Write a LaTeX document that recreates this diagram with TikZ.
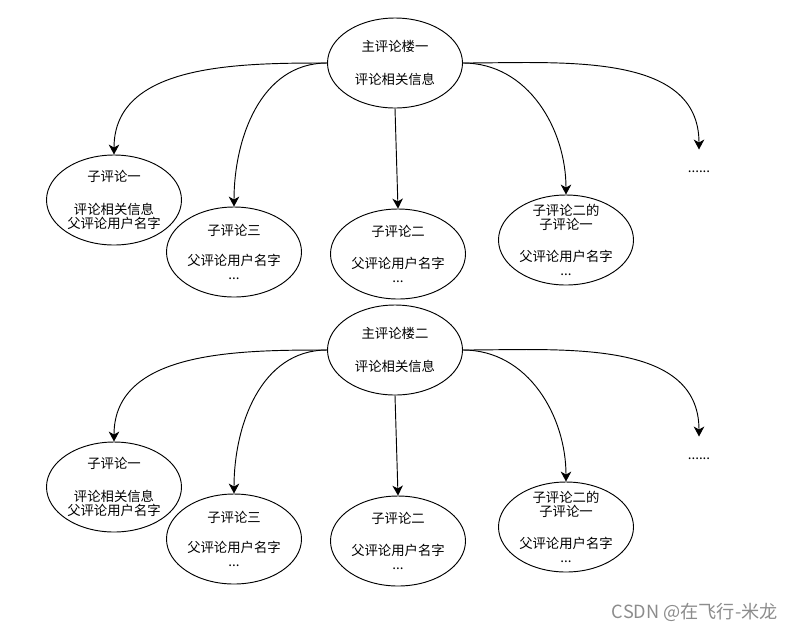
\documentclass[tikz,border=0pt]{standalone}
\usepackage{fontspec}
\newfontfamily\cjk{Noto Sans CJK SC}
\usetikzlibrary{shapes.geometric}
\usetikzlibrary{arrows.meta}

\begin{document}
\begin{tikzpicture}[x=0.03cm, y=-0.03cm, >={Stealth[length=8.5pt, width=9pt, inset=2.5pt]}]
			\tikzstyle{floor}=[ellipse, draw=black, line width=0.8pt, minimum width=4.05cm, minimum height=2.7cm, inner sep=0pt]
			\tikzstyle{txt}=[align=center, inner sep=0pt, font=\cjk\fontsize{11.4}{12}\selectfont]
			\tikzstyle{more}=[inner sep=0pt, text height=19pt, anchor=base, font=\cjk\fontsize{11.4}{12}\selectfont]
			\tikzstyle{link}=[->, line width=0.8pt]
			
			\useasboundingbox (0,0) rectangle (794,632);
			
			% floor one
			\draw node at (395, 63) [floor] (m) {};
			\draw node at (m) [txt] (mt) {主评论楼一\\[16pt]评论相关信息};
			\draw node at (114, 200) [floor] (a) {};
			\draw node at (a) [txt] (at) {子评论一\\[16pt]评论相关信息\\父评论用户名字};
			\draw node at (234, 252) [floor] (b) {};
			\draw node at (b) [txt] (bt) {子评论三\\[13.6pt]父评论用户名字\\...};
			\draw node at (398, 254) [floor] (c) {};
			\draw node at (c) [txt] (ct) {子评论二\\[16pt]父评论用户名字\\...};
			\draw node at (566, 240) [floor] (d) {};
			\draw node at (d) [txt] (dt) {子评论二的\\子评论一\\[15pt]父评论用户名字\\...};
			\draw node at (699, 172) [more] (e) {......};
			
			\draw [link] (m.west) to[out=180, in=90] (a.north);
			\draw [link] (m.west) to[out=180, in=90] (b.north);
			\draw [link] (m.south) to (c.north);
			\draw [link] (m.east) to[out=0, in=90] (d.north);
			\draw [link] (m.east) to[out=0, in=90] (e.north);
			
			% floor two
			\draw node at (395, 350) [floor] (m1) {};
			\draw node at (m1) [txt] (mt1) {主评论楼二\\[16pt]评论相关信息};
			\draw node at (114, 487) [floor] (a1) {};
			\draw node at (a1) [txt] (at1) {子评论一\\[16pt]评论相关信息\\父评论用户名字};
			\draw node at (234, 539) [floor] (b1) {};
			\draw node at (b1) [txt] (bt1) {子评论三\\[13.6pt]父评论用户名字\\...};
			\draw node at (398, 541) [floor] (c1) {};
			\draw node at (c1) [txt] (ct1) {子评论二\\[16pt]父评论用户名字\\...};
			\draw node at (566, 527) [floor] (d1) {};
			\draw node at (d1) [txt] (dt1) {子评论二的\\子评论一\\[15pt]父评论用户名字\\...};
			\draw node at (699, 459) [more] (e1) {......};
			
			\draw [link] (m1.west) to[out=180, in=90] (a1.north);
			\draw [link] (m1.west) to[out=180, in=90] (b1.north);
			\draw [link] (m1.south) to (c1.north);
			\draw [link] (m1.east) to[out=0, in=90] (d1.north);
			\draw [link] (m1.east) to[out=0, in=90] (e1.north);
			
			\draw node at (778, 612) [anchor=east, inner sep=0pt, text=black!45, font=\cjk\fontsize{15.5}{15.5}\selectfont] (wm) {CSDN @在飞行-米龙};
\end{tikzpicture}
\end{document}
